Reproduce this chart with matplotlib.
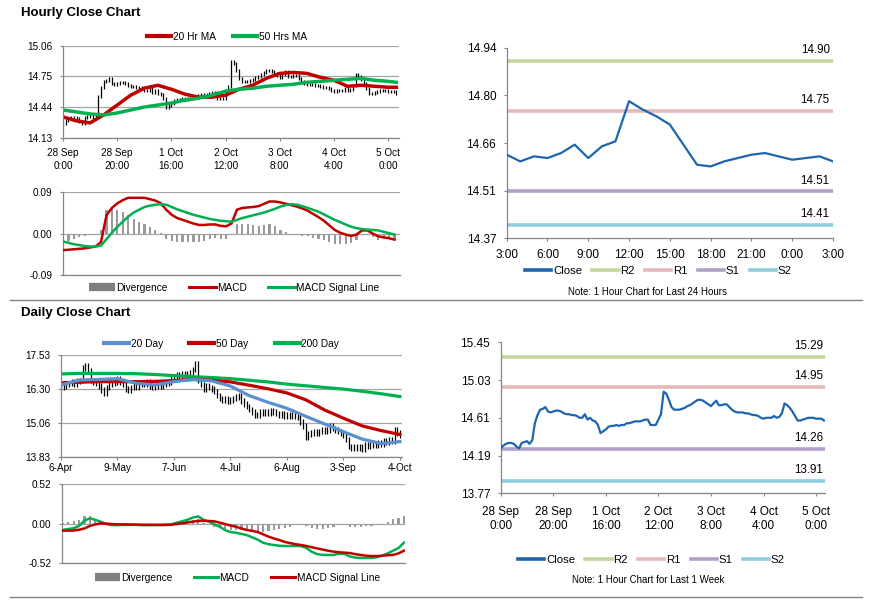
import matplotlib
matplotlib.use("Agg")
import matplotlib.pyplot as plt
from matplotlib.lines import Line2D
import numpy as np

plt.rcParams["font.family"] = ["Liberation Sans", "DejaVu Sans"]

# ---------------- data ----------------
# hourly closes, 28 Sep 0:00 -> 5 Oct 3:00 (trading hours, one per bar)
hourly_close = [
    14.27, 14.30, 14.32, 14.33, 14.33, 14.32, 14.29, 14.27, 14.33, 14.34,
    14.35, 14.32, 14.36, 14.55, 14.64, 14.70, 14.71, 14.73, 14.68, 14.67,
    14.68, 14.69, 14.69, 14.68, 14.66, 14.65, 14.65, 14.64, 14.64, 14.63,
    14.61, 14.61, 14.65, 14.59, 14.61, 14.58, 14.57, 14.53, 14.44, 14.46,
    14.48, 14.51, 14.52, 14.52, 14.53, 14.52, 14.53, 14.53, 14.55, 14.55,
    14.56, 14.57, 14.57, 14.57, 14.58, 14.59, 14.59, 14.53, 14.53, 14.53,
    14.59, 14.65, 14.90, 14.88, 14.81, 14.73, 14.70, 14.70, 14.70, 14.71,
    14.72, 14.74, 14.75, 14.77, 14.79, 14.81, 14.81, 14.80, 14.78, 14.76,
    14.74, 14.77, 14.80, 14.75, 14.75, 14.76, 14.76, 14.73, 14.70, 14.68,
    14.67, 14.67, 14.67, 14.66, 14.66, 14.65, 14.64, 14.64, 14.63, 14.61,
    14.60, 14.61, 14.61, 14.61, 14.63, 14.61, 14.62, 14.66, 14.77, 14.75,
    14.72, 14.68, 14.63, 14.58, 14.58, 14.59, 14.60, 14.61, 14.61, 14.61,
    14.60, 14.60, 14.60, 14.58,
]
hourly_ticks = ["28 Sep\n0:00", "28 Sep\n20:00", "1 Oct\n16:00", "2 Oct\n12:00",
                "3 Oct\n8:00", "4 Oct\n4:00", "5 Oct\n0:00"]

# moving averages, read every 5th bar
ma_hr_idx = list(range(0, 121, 5)) + [123]
ma20_hr = [14.34, 14.30, 14.28, 14.36, 14.46, 14.56, 14.63, 14.66, 14.62, 14.57,
           14.54, 14.54, 14.56, 14.62, 14.66, 14.73, 14.78, 14.79, 14.78, 14.74,
           14.71, 14.65, 14.66, 14.65, 14.64, 14.64]
ma50_hr = [14.41, 14.39, 14.37, 14.36, 14.38, 14.41, 14.44, 14.46, 14.48, 14.51,
           14.53, 14.56, 14.60, 14.62, 14.63, 14.65, 14.66, 14.67, 14.69, 14.70,
           14.71, 14.72, 14.73, 14.71, 14.70, 14.69]

# hourly MACD, read every 2nd bar
macd_hr_idx = list(range(0, 123, 2))
macd_hr = [
    -0.036, -0.035, -0.034, -0.033, -0.032, -0.030, -0.028, -0.018, 0.040, 0.056,
    0.066, 0.073, 0.078, 0.078, 0.078, 0.078, 0.075, 0.072, 0.066, 0.052,
    0.041, 0.034, 0.030, 0.026, 0.022, 0.019, 0.019, 0.020, 0.020, 0.017,
    0.016, 0.022, 0.052, 0.056, 0.057, 0.058, 0.060, 0.065, 0.070, 0.070,
    0.068, 0.065, 0.062, 0.059, 0.055, 0.050, 0.043, 0.036, 0.028, 0.018,
    0.008, 0.002, -0.002, -0.005, -0.002, 0.007, 0.007, 0.000, -0.006, -0.008,
    -0.010, -0.013,
]
signal_hr = [
    -0.017, -0.020, -0.023, -0.025, -0.027, -0.028, -0.028, -0.026, -0.012, 0.002,
    0.015, 0.026, 0.037, 0.046, 0.052, 0.058, 0.061, 0.063, 0.064, 0.063,
    0.058, 0.053, 0.049, 0.045, 0.041, 0.038, 0.035, 0.032, 0.030, 0.028,
    0.027, 0.026, 0.030, 0.034, 0.037, 0.040, 0.043, 0.046, 0.050, 0.054,
    0.059, 0.062, 0.064, 0.063, 0.060, 0.056, 0.052, 0.048, 0.042, 0.036,
    0.030, 0.025, 0.020, 0.015, 0.012, 0.010, 0.009, 0.008, 0.007, 0.004,
    0.001, -0.002,
]

# last 24 hours
day_close = [14.62, 14.60, 14.615, 14.61, 14.625, 14.65, 14.61, 14.645, 14.66,
             14.78, 14.755, 14.735, 14.71, 14.65, 14.59, 14.585, 14.60, 14.61,
             14.62, 14.625, 14.615, 14.605, 14.61, 14.615, 14.60]
day_ticks = ["3:00", "6:00", "9:00", "12:00", "15:00", "18:00", "21:00", "0:00", "3:00"]

level_names = ["R2", "R1", "S1", "S2"]
day_levels = [14.90, 14.75, 14.51, 14.41]
week_levels = [15.29, 14.95, 14.26, 13.91]

# daily closes, 6 Apr -> 4 Oct
daily_close = [
    16.35, 16.40, 16.45, 16.50, 16.55, 16.48, 16.58, 16.60, 17.05, 17.15,
    16.95, 16.60, 16.55, 16.50, 16.40, 16.25, 16.15, 16.35, 16.45, 16.50,
    16.55, 16.65, 16.55, 16.45, 16.30, 16.25, 16.35, 16.40, 16.35, 16.45,
    16.50, 16.45, 16.55, 16.40, 16.35, 16.40, 16.45, 16.40, 16.45, 16.50,
    16.55, 16.75, 16.70, 16.80, 16.75, 16.85, 16.80, 16.85, 16.90, 17.00,
    17.20, 16.60, 16.45, 16.30, 16.40, 16.35, 16.30, 16.20, 16.05, 15.95,
    15.90, 15.95, 15.85, 15.90, 15.95, 16.00, 16.05, 15.85, 15.75, 15.65,
    15.55, 15.45, 15.35, 15.35, 15.45, 15.40, 15.45, 15.40, 15.50, 15.45,
    15.40, 15.35, 15.40, 15.30, 15.35, 15.30, 15.35, 15.30, 15.25, 15.10,
    14.95, 14.55, 14.65, 14.70, 14.75, 14.70, 14.75, 14.80, 14.75, 14.80,
    14.95, 14.85, 14.80, 14.75, 14.70, 14.60, 14.45, 14.20, 14.15, 14.20,
    14.15, 14.20, 14.10, 14.25, 14.20, 14.25, 14.30, 14.25, 14.35, 14.30,
    14.40, 14.35, 14.45, 14.40, 14.80, 14.70, 14.60,
]
daily_ticks = ["6-Apr", "9-May", "7-Jun", "4-Jul", "6-Aug", "3-Sep", "4-Oct"]

ma_d_idx = list(range(0, 127, 7))
ma20_d = [16.44, 16.62, 16.64, 16.67, 16.50, 16.44, 16.56, 16.64, 16.59, 16.40,
          16.05, 15.81, 15.59, 15.30, 15.02, 14.74, 14.47, 14.31, 14.38]
ma50_d = [16.52, 16.54, 16.56, 16.56, 16.56, 16.57, 16.60, 16.64, 16.61, 16.55,
          16.43, 16.30, 16.15, 15.90, 15.53, 15.23, 14.95, 14.78, 14.64]
ma200_d = [16.84, 16.86, 16.86, 16.86, 16.85, 16.82, 16.78, 16.74, 16.71, 16.67,
           16.61, 16.55, 16.47, 16.41, 16.35, 16.29, 16.21, 16.12, 16.02]

macd_d_idx = list(range(0, 127, 2))
macd_d = [
    -0.083, -0.070, -0.060, -0.030, 0.040, 0.070, 0.050, 0.026, -0.004, -0.020,
    -0.020, -0.017, -0.017, -0.015, -0.017, -0.020, -0.020, -0.017, -0.017, -0.015,
    -0.010, 0.013, 0.030, 0.050, 0.080, 0.095, 0.050, 0.026, -0.010, -0.040,
    -0.085, -0.110, -0.120, -0.135, -0.150, -0.180, -0.210, -0.250, -0.270, -0.280,
    -0.290, -0.293, -0.293, -0.293, -0.295, -0.320, -0.370, -0.400, -0.410, -0.410,
    -0.410, -0.395, -0.395, -0.430, -0.445, -0.450, -0.450, -0.450, -0.440, -0.420,
    -0.390, -0.355, -0.320, -0.250,
]
signal_d = [
    -0.092, -0.092, -0.090, -0.080, -0.063, -0.030, -0.010, 0.004, 0.000, -0.005,
    -0.009, -0.009, -0.010, -0.012, -0.013, -0.015, -0.015, -0.017, -0.017, -0.017,
    -0.015, -0.005, 0.004, 0.015, 0.026, 0.035, 0.038, 0.035, 0.030, 0.013,
    -0.005, -0.025, -0.040, -0.065, -0.083, -0.095, -0.110, -0.140, -0.170, -0.195,
    -0.215, -0.240, -0.255, -0.270, -0.280, -0.293, -0.310, -0.325, -0.340, -0.355,
    -0.367, -0.375, -0.380, -0.385, -0.400, -0.410, -0.420, -0.425, -0.425, -0.420,
    -0.415, -0.410, -0.390, -0.355,
]

# ---------------- style ----------------
W, H = 873, 601
RED = "#C00000"
GREEN = "#00B050"
BLUE = "#5B8FD0"
CLOSE = "#1D66AD"
DIV = "#9A9A9A"
AXIS = "#868686"
GRID = "#A6A6A6"
LEVEL_COLORS = ["#C4D79B", "#E6B8B7", "#B1A0C7", "#92CDDC"]

fig = plt.figure(figsize=(W / 100, H / 100), dpi=100)


def add_ax(left, top, right, bottom):
    return fig.add_axes([left / W, 1 - bottom / H, (right - left) / W, (bottom - top) / H])


def base_style(ax, size=7.2, xpad=3, ypad=5):
    for side in ("top", "right"):
        ax.spines[side].set_visible(False)
    for side in ("left", "bottom"):
        ax.spines[side].set_color(AXIS)
        ax.spines[side].set_linewidth(0.9)
    ax.tick_params(direction="out", length=2.5, width=0.8, color=AXIS, labelsize=size)
    ax.tick_params(axis="x", pad=xpad)
    ax.tick_params(axis="y", pad=ypad)


def set_yaxis(ax, lo, hi, labels):
    ax.set_ylim(lo, hi)
    ax.set_yticks(np.linspace(lo, hi, len(labels)))
    ax.set_yticklabels(labels)


def price_bars(ax, close, wick):
    # stock-style bar: previous close -> close, with a small wick each side
    c = np.asarray(close)
    prev = np.r_[c[0], c[:-1]]
    ax.vlines(np.arange(len(c)), np.minimum(prev, c) - wick,
              np.maximum(prev, c) + wick, color="black", lw=0.9)


def row_legend(handles, labels, cx, cy, size=7.3, hl=2.5, cs=2.0):
    fig.legend(handles, labels, loc="center", bbox_to_anchor=(cx / W, 1 - cy / H),
               ncol=len(handles), frameon=False, fontsize=size, handlelength=hl,
               handletextpad=0.15, columnspacing=cs, borderaxespad=0, borderpad=0)


def macd_panel(ax, idx, macd, signal, macd_col, sig_col, lo, hi, labels):
    base_style(ax)
    div = np.asarray(macd) - np.asarray(signal)
    ax.bar(idx, div, width=0.8, color=DIV, zorder=2)
    ax.plot(idx, macd, color=macd_col, lw=1.8, zorder=3)
    ax.plot(idx, signal, color=sig_col, lw=1.8, zorder=3)
    set_yaxis(ax, lo, hi, labels)
    ax.grid(axis="y", color=GRID, lw=0.9)
    ax.set_axisbelow(True)
    ax.set_xticks([])


def levels_panel(ax, x, close, levels, lab_x):
    for lvl, col in zip(levels, LEVEL_COLORS):
        ax.axhline(lvl, color=col, lw=2.6, zorder=2)
        ax.annotate(f"{lvl:.2f}", xy=(lab_x, lvl), xycoords=ax.get_yaxis_transform(),
                    xytext=(0, 3.5), textcoords="offset points", ha="right", va="bottom",
                    fontsize=8.4)
    ax.plot(x, close, color=CLOSE, lw=1.6, zorder=3)


def levels_legend(cx, cy):
    hs = [Line2D([], [], color=CLOSE, lw=2.6)] + [Line2D([], [], color=c, lw=2.6) for c in LEVEL_COLORS]
    row_legend(hs, ["Close"] + level_names, cx, cy, size=8.2, hl=2.3, cs=0.9)


# ---------------- Hourly close chart ----------------
fig.text(21 / W, 1 - 13 / H, "Hourly Close Chart", fontsize=9.5, fontweight="bold", va="center")

ax = add_ax(63, 45.7, 399, 137.7)
base_style(ax, xpad=5)
price_bars(ax, hourly_close, 0.015)
ax.plot(ma_hr_idx, ma20_hr, color=RED, lw=2.5)
ax.plot(ma_hr_idx, ma50_hr, color=GREEN, lw=2.5)
ax.set_xlim(0, 124)
set_yaxis(ax, 14.13, 15.06, ["14.13", "14.44", "14.75", "15.06"])
ax.grid(axis="y", color=GRID, lw=0.9)
ax.set_axisbelow(True)
ax.set_xticks(range(0, 121, 20))
ax.set_xticklabels(hourly_ticks, linespacing=1.3)
row_legend([Line2D([], [], color=RED, lw=3), Line2D([], [], color=GREEN, lw=3)],
           ["20 Hr MA", "50 Hrs MA"], 227, 37, hl=2.4, cs=1.7)

ax = add_ax(63, 192.3, 400, 275)
macd_panel(ax, macd_hr_idx, macd_hr, signal_hr, RED, GREEN, -0.09, 0.09, ["-0.09", "0.00", "0.09"])
ax.set_xlim(0, 124)
row_legend([Line2D([], [], color="#7F7F7F", lw=6, solid_capstyle="butt"),
            Line2D([], [], color=RED, lw=2.2), Line2D([], [], color=GREEN, lw=2.2)],
           ["Divergence", "MACD", "MACD Signal Line"], 234, 288, hl=2.6, cs=2.1)

# last 24 hours
ax = add_ax(506.7, 47.7, 833, 238.3)
base_style(ax, size=8.5, xpad=5, ypad=5)
levels_panel(ax, range(len(day_close)), day_close, day_levels, 0.99)
ax.set_xlim(0, 24)
set_yaxis(ax, 14.37, 14.94, ["14.37", "14.51", "14.66", "14.80", "14.94"])
ax.set_xticks(range(0, 25, 3))
ax.set_xticklabels(day_ticks)
levels_legend(658.5, 270.7)
fig.text(648 / W, 1 - 292 / H, "Note: 1 Hour Chart for Last 24 Hours", fontsize=7, ha="center", va="center")

# separators
for y in (300, 597):
    fig.add_artist(Line2D([10 / W, 862 / W], [1 - y / H, 1 - y / H], color="#808080", lw=1))

# ---------------- Daily close chart ----------------
fig.text(21 / W, 1 - 313 / H, "Daily Close Chart", fontsize=9.5, fontweight="bold", va="center")

ax = add_ax(61, 355, 401.5, 456.7)
base_style(ax, xpad=2)
price_bars(ax, daily_close, 0.1)
ax.plot(ma_d_idx, ma200_d, color=GREEN, lw=2.3)
ax.plot(ma_d_idx, ma50_d, color=RED, lw=2.3)
ax.plot(ma_d_idx, ma20_d, color=BLUE, lw=2.3)
ax.set_xlim(0, 126.6)
set_yaxis(ax, 13.83, 17.53, ["13.83", "15.06", "16.30", "17.53"])
ax.grid(axis="y", color=GRID, lw=0.9)
ax.set_axisbelow(True)
ax.set_xticks(range(0, 127, 21))
ax.set_xticklabels(daily_ticks)
row_legend([Line2D([], [], color=BLUE, lw=3), Line2D([], [], color=RED, lw=3),
            Line2D([], [], color=GREEN, lw=3)],
           ["20 Day", "50 Day", "200 Day"], 221.5, 344, hl=2.5, cs=2.6)

ax = add_ax(61.7, 484, 405, 563.3)
macd_panel(ax, macd_d_idx, macd_d, signal_d, GREEN, RED, -0.52, 0.52, ["-0.52", "0.00", "0.52"])
ax.set_xlim(-0.4, 126.4)
row_legend([Line2D([], [], color="#7F7F7F", lw=6, solid_capstyle="butt"),
            Line2D([], [], color=GREEN, lw=2.2), Line2D([], [], color=RED, lw=2.2)],
           ["Divergence", "MACD", "MACD Signal Line"], 237.5, 578, hl=2.4, cs=2.1)

# last week, hourly
ax = add_ax(500.7, 342.3, 825, 493.3)
base_style(ax, size=8.5, xpad=6.5, ypad=5)
levels_panel(ax, range(len(hourly_close)), hourly_close, week_levels, 0.994)
ax.set_xlim(0, 123.4)
set_yaxis(ax, 13.77, 15.45, ["13.77", "14.19", "14.61", "15.03", "15.45"])
ax.set_xticks(range(0, 121, 20))
ax.set_xticklabels(hourly_ticks, linespacing=1.25)
levels_legend(651.5, 560)
fig.text(648 / W, 1 - 580 / H, "Note: 1 Hour Chart for Last 1 Week", fontsize=7, ha="center", va="center")

fig.savefig("out.png", dpi=100)
